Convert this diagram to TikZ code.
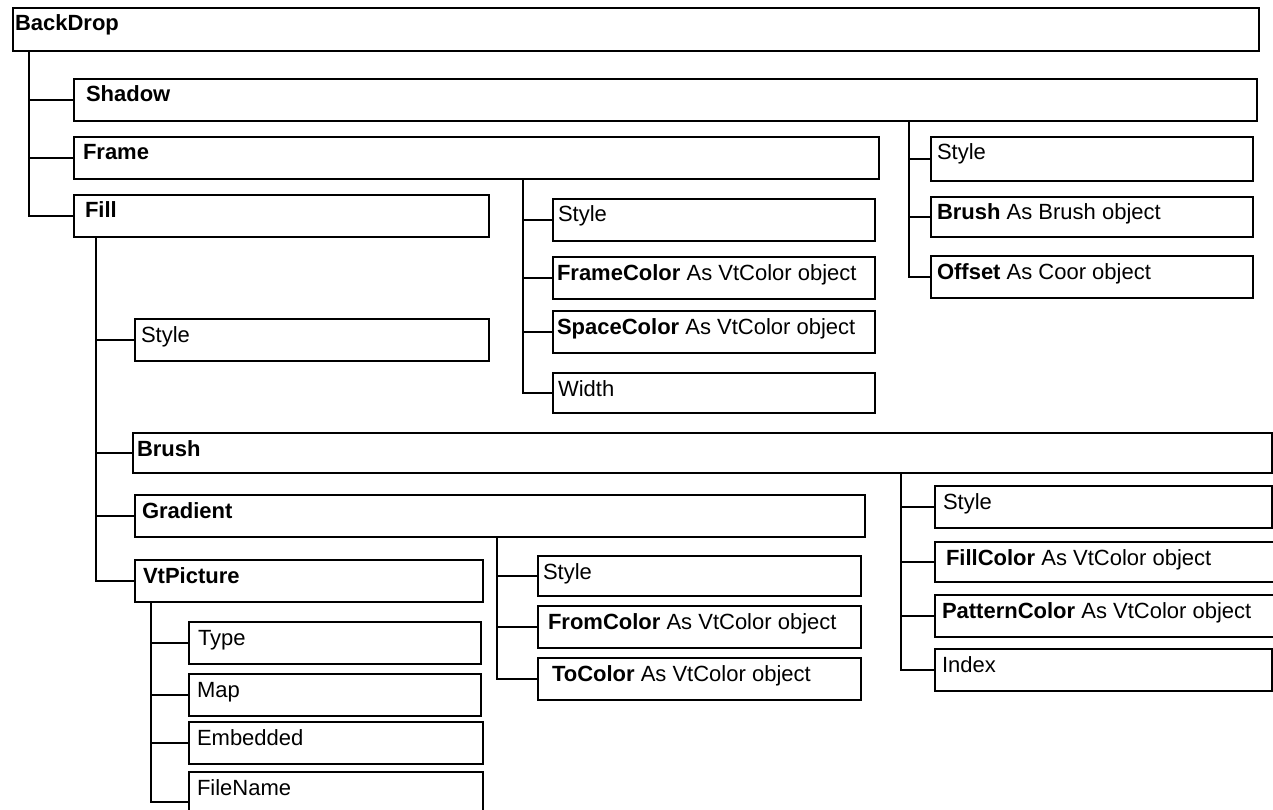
\documentclass[tikz,border=0pt]{standalone}
\usepackage{fontspec}
\setmainfont{Liberation Sans}
\begin{document}
\begin{tikzpicture}[x=1pt,y=-1pt,
  tb/.style={draw, line width=1.8pt, fill=white, inner sep=0pt, outer sep=0pt,
             anchor=north west, rectangle},
  lbl/.style={anchor=base west, inner sep=0pt, outer sep=0pt,
              font=\fontsize{22}{26}\selectfont},
  ln/.style={line width=1.8pt, line cap=rect}]
% canvas
\fill[white] (0,0) rectangle (1273,810);
\useasboundingbox (0,0) rectangle (1273,810);

% \tbox{name}{x1}{y1}{x2}{y2}{text x}{text}
\newcommand\tbox[7]{%
  \node[tb, minimum width={(#4-#2)*1pt}, minimum height={(#5-#3)*1pt}] (#1) at (#2,#3) {};
  \node[lbl] (#1-t) at (#6,{#3+23}) {#7};}

% top level
\tbox{BackDrop}{13}{8}{1259}{51}{15}{\textbf{BackDrop}}
\tbox{Shadow}{74}{79}{1257}{121}{86}{\textbf{Shadow}}
\tbox{Frame}{74}{137}{879}{179}{83}{\textbf{Frame}}
\tbox{Fill}{74}{195}{489}{237}{85}{\textbf{Fill}}

% Frame members
\tbox{frStyle}{553}{199}{875}{241}{558}{Style}
\tbox{frColor}{553}{257}{875}{299}{557}{\textbf{FrameColor} As VtColor object}
\tbox{spColor}{553}{311}{875}{353}{557}{\textbf{SpaceColor} As VtColor object}
\tbox{frWidth}{553}{373}{875}{413}{558}{Width}

% Shadow members
\tbox{shStyle}{931}{137}{1253}{181}{937}{Style}
\tbox{shBrush}{931}{197}{1253}{237}{937}{\textbf{Brush} As Brush object}
\tbox{shOffset}{931}{256}{1253}{298}{937}{\textbf{Offset} As Coor object}

% Fill members
\tbox{fStyle}{135}{319}{489}{361}{141}{Style}
\tbox{fBrush}{133}{433}{1272}{473}{137}{\textbf{Brush}}
\tbox{Gradient}{135}{495}{865}{537}{142}{\textbf{Gradient}}
\tbox{VtPicture}{135}{560}{483}{602}{143}{\textbf{VtPicture}}

% VtPicture members
\tbox{Type}{189}{622}{481}{664}{198}{Type}
\tbox{Map}{189}{674}{481}{716}{197}{Map}
\tbox{Embedded}{189}{722}{483}{764}{197}{Embedded}
\tbox{FileName}{189}{772}{483}{832}{197}{FileName}

% Gradient members
\tbox{gStyle}{538}{556}{861}{596}{543}{Style}
\tbox{FromColor}{538}{606}{861}{648}{548}{\textbf{FromColor} As VtColor object}
\tbox{ToColor}{538}{658}{861}{700}{552}{\textbf{ToColor} As VtColor object}

% Brush members
\tbox{bStyle}{935}{486}{1272}{528}{943}{Style}
\tbox{FillColor}{935}{542}{1276}{582}{946}{\textbf{FillColor} As VtColor object}
\tbox{PatternColor}{935}{595}{1276}{637}{942}{\textbf{PatternColor} As VtColor object}
\tbox{Index}{935}{649}{1272}{691}{942}{Index}

% tree connectors
\foreach \c in {Shadow,Frame,Fill}
  \draw[ln] (BackDrop.south west) ++(16pt,0) |- (\c.west);
\foreach \c in {shStyle,shBrush,shOffset}
  \draw[ln] (Shadow.south west) ++(835pt,0) |- (\c.west);
\foreach \c in {frStyle,frColor,spColor,frWidth}
  \draw[ln] (Frame.south west) ++(449pt,0) |- (\c.west);
\foreach \c in {fStyle,fBrush,Gradient,VtPicture}
  \draw[ln] (Fill.south west) ++(22pt,0) |- (\c.west);
\foreach \c in {bStyle,FillColor,PatternColor,Index}
  \draw[ln] (fBrush.south west) ++(768pt,0) |- (\c.west);
\foreach \c in {gStyle,FromColor,ToColor}
  \draw[ln] (Gradient.south west) ++(362pt,0) |- (\c.west);
\foreach \c in {Type,Map,Embedded,FileName}
  \draw[ln] (VtPicture.south west) ++(16pt,0) |- (\c.west);
\end{tikzpicture}
\end{document}
